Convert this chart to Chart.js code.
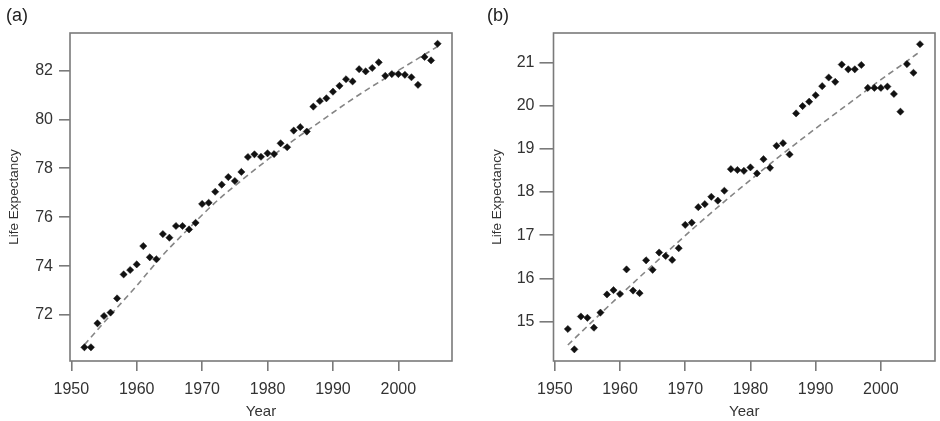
<!DOCTYPE html>
<html>
<head>
<meta charset="utf-8">
<script src="https://cdn.jsdelivr.net/npm/chart.js@4"></script>
<style>
  body { margin: 0; background: #fff; }
  .wrap { position: absolute; top: 0; }
</style>
</head>
<body>
<div class="wrap" style="left:0"><canvas id="chartA" width="470" height="421"></canvas></div>
<div class="wrap" style="left:470px"><canvas id="chartB" width="470" height="421"></canvas></div>
<script>
// years 1952..2006
const years = [1952,1953,1954,1955,1956,1957,1958,1959,1960,1961,1962,1963,1964,1965,1966,1967,1968,1969,1970,
  1971,1972,1973,1974,1975,1976,1977,1978,1979,1980,1981,1982,1983,1984,1985,1986,1987,1988,1989,1990,
  1991,1992,1993,1994,1995,1996,1997,1998,1999,2000,2001,2002,2003,2004,2005,2006];

// panel (a) observed
const lifeA = [70.68,70.68,71.66,71.96,72.1,72.68,73.66,73.84,74.07,74.82,74.36,74.28,75.31,75.16,75.64,75.64,75.5,75.77,76.54,
  76.59,77.04,77.33,77.64,77.48,77.85,78.46,78.57,78.47,78.61,78.58,79.02,78.86,79.54,79.68,79.5,80.52,80.75,80.86,81.13,
  81.37,81.64,81.55,82.05,81.96,82.1,82.33,81.78,81.85,81.85,81.82,81.72,81.41,82.55,82.41,83.09];

// panel (b) observed
const lifeB = [14.83,14.36,15.12,15.09,14.86,15.21,15.63,15.73,15.64,16.21,15.72,15.66,16.42,16.2,16.6,16.52,16.43,16.7,17.24,
  17.29,17.65,17.72,17.89,17.8,18.03,18.53,18.51,18.49,18.57,18.43,18.76,18.56,19.07,19.13,18.87,19.82,19.99,20.09,20.24,
  20.45,20.65,20.55,20.95,20.84,20.84,20.94,20.41,20.41,20.41,20.44,20.27,19.86,20.96,20.76,21.42];

// fitted (dashed) curves
const fitYears = [1952,1956,1960,1964,1968,1972,1976,1980,1984,1988,1992,1996,2000,2004,2006];
const fitA = [70.78,72.0,73.2,74.45,75.55,76.6,77.5,78.35,79.15,79.9,80.65,81.35,82.0,82.65,82.98];
const fitB = [14.46,15.04,15.61,16.17,16.72,17.26,17.78,18.28,18.77,19.24,19.7,20.15,20.6,21.03,21.25];

const xTicks = [1950,1960,1970,1980,1990,2000];
const yTicksA = [72,74,76,78,80,82];
const yTicksB = [15,16,17,18,19,20,21];

const frame = {
  id: 'frame',
  afterDraw(chart, args, opts) {
    const c = chart.ctx, a = chart.chartArea;
    c.save();
    c.strokeStyle = '#7a7a7a';
    c.lineWidth = 1.6;
    c.strokeRect(a.left, a.top, a.right - a.left, a.bottom - a.top);
    c.fillStyle = '#222';
    c.font = '18px "Liberation Sans", Arial, sans-serif';
    c.textBaseline = 'middle';
    c.fillText(opts.tag, opts.tagX, 16);
    c.restore();
  }
};

function makeChart(id, obs, fit, yTicks, yMin, yMax, xMin, xMax, cfg) {
  const font = { family: '"Liberation Sans", Arial, sans-serif', size: 15 };
  return new Chart(document.getElementById(id), {
    type: 'scatter',
    data: {
      datasets: [{
        data: years.map((y, i) => ({ x: y, y: obs[i] })),
        pointStyle: 'rectRot',
        pointRadius: 3.6,
        backgroundColor: '#111',
        borderColor: '#111',
        borderWidth: 0.5
      }, {
        data: fitYears.map((y, i) => ({ x: y, y: fit[i] })),
        showLine: true,
        pointRadius: 0,
        borderColor: '#858585',
        borderWidth: 1.6,
        borderDash: [6, 4],
        cubicInterpolationMode: 'monotone',
        fill: false
      }]
    },
    options: {
      responsive: false,
      animation: false,
      layout: { padding: { left: 0, right: cfg.padRight, top: 33, bottom: 0 } },
      plugins: { legend: { display: false }, tooltip: { enabled: false }, frame: { tag: cfg.tag, tagX: cfg.tagX } },
      scales: {
        x: {
          type: 'linear', min: xMin, max: xMax,
          afterBuildTicks: s => { s.ticks = xTicks.map(v => ({ value: v })); },
          afterFit: s => { s.height = 60; },
          border: { display: false },
          grid: { drawOnChartArea: false, drawTicks: true, tickLength: 10, color: '#7a7a7a', lineWidth: 1.6 },
          ticks: { color: '#333', font: { ...font, size: 16 }, padding: 9, maxRotation: 0, callback: v => String(v) },
          title: { display: true, text: 'Year', color: '#333', font: font, padding: { top: 0, bottom: 0 } }
        },
        y: {
          min: yMin, max: yMax,
          afterBuildTicks: s => { s.ticks = yTicks.map(v => ({ value: v })); },
          afterFit: s => { s.width = cfg.yWidth; },
          border: { display: false },
          grid: { drawOnChartArea: false, drawTicks: true, tickLength: cfg.tickLen, color: '#7a7a7a', lineWidth: 1.6 },
          ticks: { color: '#333', font: { ...font, size: 16 }, padding: cfg.tickPad, callback: v => String(v) },
          title: { display: true, text: 'Life Expectancy', color: '#333', font: { ...font, size: 13.5 }, padding: { top: cfg.titlePad, bottom: 4 } }
        }
      }
    },
    plugins: [frame]
  });
}

makeChart('chartA', lifeA, fitA, yTicksA, 70.12, 83.53, 1949.8, 2008.2,
  { yWidth: 70, padRight: 18, tag: '(a)', tagX: 6, tickLen: 11, tickPad: 6, titlePad: 6 });
makeChart('chartB', lifeB, fitB, yTicksB, 14.09, 21.68, 1949.8, 2008.3,
  { yWidth: 83.5, padRight: 5, tag: '(b)', tagX: 17, tickLen: 14, tickPad: 5, titlePad: 19 });
</script>
</body>
</html>
